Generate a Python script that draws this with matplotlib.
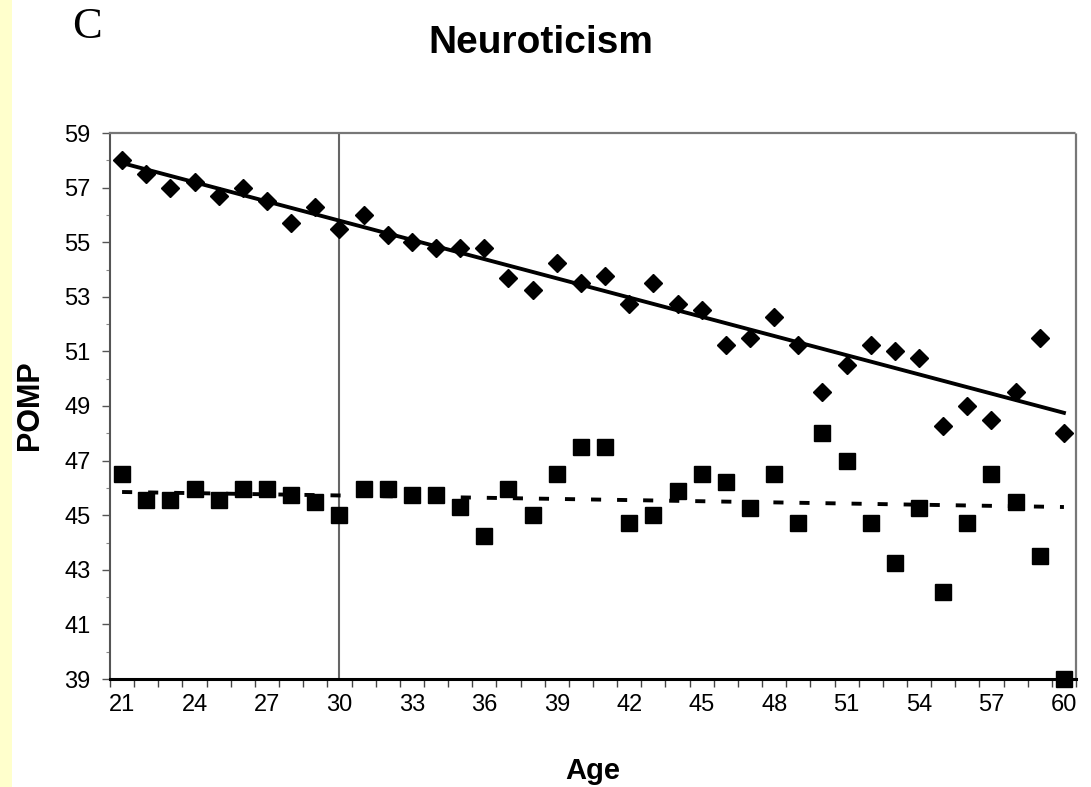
import numpy as np
import matplotlib.pyplot as plt
from matplotlib.ticker import MultipleLocator

ages = np.arange(21, 61)

# diamonds (upper series)
pomp_upper = [58.0, 57.5, 57.0, 57.2, 56.7, 57.0, 56.5, 55.7, 56.3, 55.5,
              56.0, 55.25, 55.0, 54.8, 54.8, 54.8, 53.7, 53.25, 54.25, 53.5,
              53.75, 52.75, 53.5, 52.75, 52.5, 51.25, 51.5, 52.25, 51.25, 49.5,
              50.5, 51.25, 51.0, 50.75, 48.25, 49.0, 48.5, 49.5, 51.5, 48.0]

# squares (lower series)
pomp_lower = [46.5, 45.55, 45.55, 45.95, 45.55, 45.95, 45.95, 45.75, 45.5, 45.0,
              45.95, 45.95, 45.75, 45.75, 45.3, 44.25, 45.95, 45.0, 46.5, 47.5,
              47.5, 44.7, 45.0, 45.9, 46.5, 46.2, 45.25, 46.5, 44.7, 48.0,
              47.0, 44.7, 43.25, 45.25, 42.2, 44.7, 46.5, 45.5, 43.5, 39.0]

# trend lines, read at age 21 and age 60
trend_ages = [21, 60]
trend_upper = [57.9, 48.75]
trend_lower = [45.85, 45.3]

plt.rcParams["font.family"] = ["Liberation Sans", "DejaVu Sans"]

fig = plt.figure(figsize=(10.91, 7.87), dpi=100)
fig.patches.append(plt.Rectangle((0, 0), 12 / 1091, 1, transform=fig.transFigure,
                                 facecolor="#ffffcc", edgecolor="none", zorder=0))

ax = fig.add_axes([110 / 1091, 1 - 679 / 787, 966 / 1091, 546 / 787])
ax.set_xlim(20.5, 60.5)
ax.set_ylim(39, 59)

ax.axvline(30, color="#666666", lw=1.5, zorder=1)

ax.plot(trend_ages, trend_upper, color="black", lw=2.8, zorder=3)
ax.plot(trend_ages, trend_lower, color="black", lw=2.8, dashes=(2.6, 4.1), zorder=3)

ax.plot(ages, pomp_upper, "D", color="black", markersize=9, zorder=4, clip_on=False)
ax.plot(ages, pomp_lower, "s", color="black", markersize=11, zorder=4, clip_on=False)

# axes frame
ax.spines["left"].set_color("#555555")
ax.spines["left"].set_linewidth(1.5)
ax.spines["bottom"].set_color("black")
ax.spines["bottom"].set_linewidth(2.2)
for side in ["top", "right"]:
    ax.spines[side].set_color("#777777")
    ax.spines[side].set_linewidth(1.6)
    ax.spines[side].set_linestyle((0, (2, 1)))

ax.set_yticks(np.arange(39, 60, 2))
ax.yaxis.set_minor_locator(MultipleLocator(1))
ax.tick_params(axis="y", which="major", length=6, width=1, color="#555555",
               labelsize=17, pad=8)
ax.tick_params(axis="y", which="minor", length=3, width=0.8, color="#888888")

ax.set_xticks(np.arange(21, 61, 3))
ax.set_xticks(np.arange(20.5, 61, 1), minor=True)
ax.tick_params(axis="x", which="major", length=0, labelsize=17, pad=11)
ax.tick_params(axis="x", which="minor", length=6, width=1, color="#444444")

fig.text(541 / 1091, 1 - 43 / 787, "Neuroticism", fontsize=28, fontweight="bold",
         ha="center", va="center")
fig.text(72 / 1091, 1 - 27 / 787, "C", fontsize=32, family="Liberation Serif",
         ha="left", va="center")
fig.text(30 / 1091, 1 - 405 / 787, "POMP", fontsize=22, fontweight="bold",
         rotation=90, ha="center", va="center")
fig.text(593 / 1091, 1 - 771 / 787, "Age", fontsize=21, fontweight="bold",
         ha="center", va="center")

fig.savefig("out.png", dpi=100)
